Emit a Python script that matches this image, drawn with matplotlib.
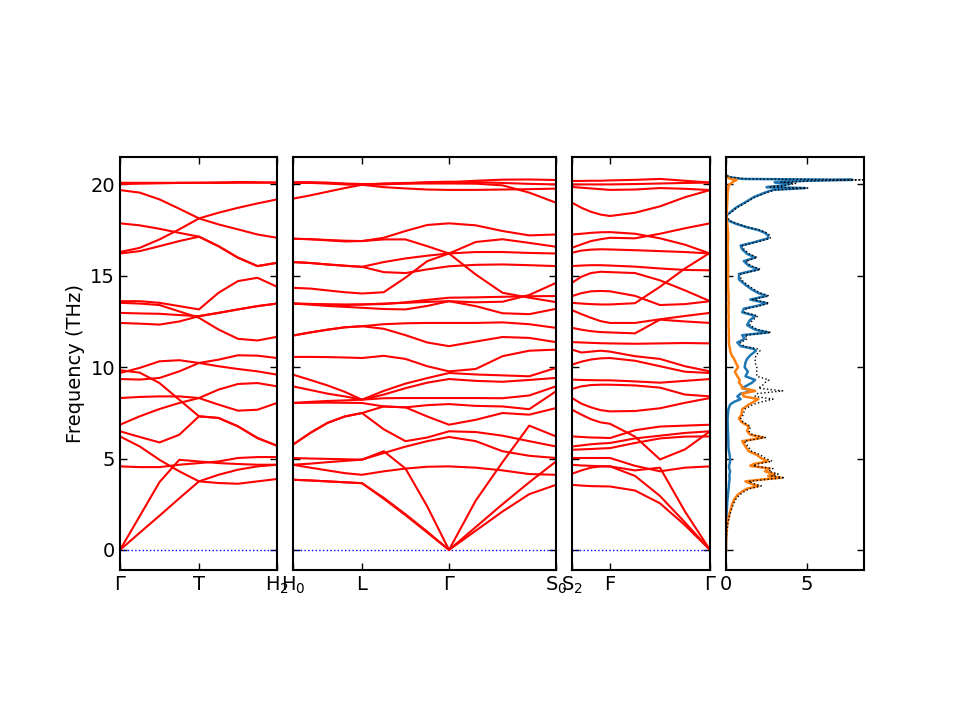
import matplotlib
matplotlib.use("Agg")
import matplotlib.pyplot as plt
import numpy as np

# ---------------- k-path (segment lengths, arbitrary units) ----------------
panel1_segments = [79, 78]          # Γ-T, T-H2
panel2_segments = [69, 87, 107]     # H0-L, L-Γ, Γ-S0
panel3_segments = [38, 100]         # S2-F, F-Γ
panel1_labels = ["Γ", "T", "H$_2$"]
panel2_labels = ["H$_0$", "L", "Γ", "S$_0$"]
panel3_labels = ["S$_2$", "F", "Γ"]
samples_per_segment = 5

# ---------------- band frequencies (THz) ----------------
# panel 1 : Γ -> T -> H2  (9 samples)
bands_panel1 = [
    [20.09, 20.09, 20.09, 20.09, 20.09, 20.11, 20.13, 20.12, 20.10],
    [20.02, 20.04, 20.06, 20.08, 20.09, 20.08, 20.09, 20.09, 20.10],
    [19.69, 19.55, 19.18, 18.67, 18.14, 17.81, 17.54, 17.26, 17.08],
    [16.30, 16.53, 16.99, 17.54, 18.14, 18.45, 18.72, 18.96, 19.18],
    [17.87, 17.76, 17.57, 17.35, 17.14, 16.62, 15.99, 15.53, 15.71],
    [16.22, 16.35, 16.62, 16.90, 17.14, 16.62, 15.99, 15.53, 15.71],
    [13.61, 13.61, 13.52, 13.34, 13.16, 14.07, 14.71, 14.89, 14.40],
    [13.52, 13.48, 13.40, 13.05, 12.70, 12.06, 11.55, 11.46, 11.66],
    [12.97, 12.94, 12.92, 12.85, 12.79, 12.97, 13.16, 13.34, 13.48],
    [12.42, 12.38, 12.33, 12.50, 12.79, 12.97, 13.16, 13.34, 13.48],
    [9.68, 9.96, 10.32, 10.38, 10.23, 10.05, 9.90, 9.77, 9.59],
    [9.83, 9.70, 9.13, 8.22, 7.31, 7.22, 6.76, 6.12, 5.70],
    [9.35, 9.32, 9.41, 9.77, 10.23, 10.41, 10.65, 10.63, 10.50],
    [8.31, 8.37, 8.40, 8.40, 8.31, 7.95, 7.62, 7.67, 8.04],
    [6.85, 7.31, 7.71, 8.04, 8.31, 8.77, 9.08, 9.13, 8.95],
    [6.49, 6.18, 5.88, 6.30, 7.31, 7.22, 6.76, 6.12, 5.70],
    [6.21, 5.66, 4.93, 4.30, 3.75, 3.66, 3.62, 3.75, 3.88],
    [4.57, 4.53, 4.53, 4.66, 4.75, 4.84, 5.03, 5.08, 5.08],
    [0.00, 1.85, 3.71, 4.93, 4.84, 4.75, 4.70, 4.66, 4.66],
    [0.00, 0.94, 1.87, 2.82, 3.75, 4.11, 4.39, 4.57, 4.66],
]

# panel 2 : H0 -> L -> Γ -> S0  (13 samples)
bands_panel2 = [
    [20.09, 20.09, 20.07, 20.02, 19.98, 19.85, 19.78, 19.72, 19.70, 19.70, 19.72, 19.74, 19.77],
    [19.22, 19.40, 19.60, 19.80, 19.98, 20.05, 20.08, 20.10, 20.12, 20.20, 20.26, 20.27, 20.24],
    [20.12, 20.12, 20.10, 20.05, 20.02, 20.03, 20.04, 20.05, 20.05, 20.04, 19.95, 19.55, 19.00],
    [20.09, 20.08, 20.05, 20.00, 19.98, 20.00, 20.06, 20.12, 20.15, 20.12, 20.08, 20.03, 20.00],
    [17.03, 17.00, 16.96, 16.92, 16.90, 17.08, 17.45, 17.78, 17.87, 17.76, 17.45, 17.21, 17.26],
    [17.03, 17.00, 16.94, 16.88, 16.90, 16.99, 16.99, 16.62, 16.22, 15.07, 14.07, 13.80, 13.56],
    [15.75, 15.70, 15.62, 15.55, 15.49, 15.75, 15.95, 16.10, 16.22, 16.30, 16.30, 16.25, 16.22],
    [15.75, 15.70, 15.62, 15.55, 15.49, 15.20, 15.15, 15.35, 15.52, 15.60, 15.62, 15.58, 15.53],
    [14.34, 14.30, 14.20, 14.10, 14.03, 14.10, 14.90, 15.80, 16.22, 16.85, 17.00, 16.80, 16.59],
    [13.48, 13.46, 13.44, 13.43, 13.43, 13.48, 13.52, 13.57, 13.61, 13.55, 13.58, 13.95, 14.61],
    [13.48, 13.45, 13.42, 13.40, 13.43, 13.45, 13.55, 13.68, 13.80, 13.82, 13.85, 13.88, 13.89],
    [13.48, 13.42, 13.35, 13.30, 13.25, 13.18, 13.16, 13.35, 13.61, 13.34, 12.95, 12.90, 13.19],
    [11.73, 11.90, 12.05, 12.18, 12.24, 12.35, 12.40, 12.42, 12.42, 12.42, 12.45, 12.35, 12.15],
    [11.73, 11.90, 12.05, 12.18, 12.24, 12.10, 11.75, 11.35, 11.15, 11.40, 11.65, 11.60, 11.37],
    [10.56, 10.56, 10.55, 10.53, 10.50, 10.62, 10.45, 10.05, 9.77, 9.90, 10.60, 10.90, 10.96],
    [9.59, 9.30, 9.00, 8.65, 8.22, 8.70, 9.10, 9.40, 9.68, 9.60, 9.55, 9.50, 9.96],
    [8.95, 8.75, 8.55, 8.40, 8.22, 8.50, 8.85, 9.15, 9.35, 9.25, 9.20, 9.30, 9.41],
    [8.04, 8.10, 8.15, 8.18, 8.22, 8.30, 8.31, 8.31, 8.31, 8.31, 8.30, 8.45, 8.95],
    [8.04, 8.05, 8.06, 8.05, 8.04, 7.85, 7.80, 7.92, 7.98, 7.88, 7.85, 7.70, 8.68],
    [5.76, 6.40, 6.95, 7.30, 7.49, 7.85, 7.80, 7.30, 6.85, 7.12, 7.49, 7.40, 7.76],
    [5.76, 6.40, 6.95, 7.30, 7.49, 6.60, 5.95, 6.15, 6.49, 6.45, 6.25, 5.95, 5.66],
    [5.03, 5.00, 4.98, 4.96, 4.94, 5.30, 5.65, 5.95, 6.18, 5.95, 5.40, 5.15, 5.03],
    [4.66, 4.50, 4.35, 4.20, 4.11, 4.30, 4.45, 4.55, 4.57, 4.50, 4.35, 4.15, 4.11],
    [4.66, 4.72, 4.80, 4.87, 4.94, 5.40, 4.45, 2.38, 0.00, 2.70, 4.80, 6.80, 6.21],
    [3.84, 3.80, 3.75, 3.70, 3.65, 2.85, 1.95, 1.00, 0.00, 1.05, 2.10, 3.05, 3.56],
    [3.84, 3.80, 3.75, 3.70, 3.65, 2.80, 1.90, 0.95, 0.00, 1.25, 2.50, 3.70, 4.84],
]

# panel 3 : S2 -> F -> Γ  (9 samples)
bands_panel3 = [
    [20.19, 20.19, 20.20, 20.20, 20.22, 20.25, 20.30, 20.20, 20.10],
    [20.00, 20.00, 20.00, 20.00, 20.00, 20.02, 20.05, 20.08, 20.10],
    [19.86, 19.82, 19.78, 19.74, 19.70, 19.72, 19.80, 19.76, 19.69],
    [19.00, 18.72, 18.50, 18.35, 18.27, 18.45, 18.80, 19.30, 19.69],
    [17.26, 17.30, 17.35, 17.38, 17.39, 17.30, 17.05, 16.70, 16.22],
    [16.53, 16.72, 16.90, 17.00, 17.08, 17.05, 17.30, 17.60, 17.87],
    [16.26, 16.38, 16.43, 16.45, 16.44, 16.40, 16.35, 16.30, 16.22],
    [15.53, 15.56, 15.58, 15.58, 15.56, 15.50, 15.40, 15.32, 15.30],
    [14.62, 14.95, 15.15, 15.22, 15.20, 15.15, 14.75, 14.20, 13.61],
    [13.89, 14.05, 14.15, 14.17, 14.15, 13.90, 13.40, 13.45, 13.61],
    [13.52, 13.48, 13.45, 13.43, 13.43, 13.50, 14.40, 15.40, 16.26],
    [13.12, 12.90, 12.70, 12.52, 12.42, 12.42, 12.62, 12.80, 12.97],
    [12.15, 12.05, 11.97, 11.92, 11.90, 11.85, 12.60, 12.50, 12.42],
    [11.37, 11.35, 11.33, 11.31, 11.30, 11.28, 11.30, 11.32, 11.30],
    [10.96, 10.80, 10.85, 10.90, 10.85, 10.60, 10.45, 10.05, 9.77],
    [10.14, 10.30, 10.42, 10.48, 10.50, 10.35, 10.05, 9.75, 9.68],
    [9.32, 9.30, 9.29, 9.28, 9.28, 9.22, 9.15, 9.25, 9.35],
    [8.81, 8.95, 9.02, 9.04, 9.04, 9.00, 8.88, 8.50, 8.40],
    [8.31, 8.00, 7.80, 7.65, 7.58, 7.60, 7.75, 8.05, 8.31],
    [7.67, 7.40, 7.15, 6.98, 6.90, 6.20, 4.95, 5.50, 6.49],
    [6.21, 6.18, 6.15, 6.14, 6.12, 6.55, 6.75, 6.80, 6.85],
    [5.66, 5.72, 5.78, 5.82, 5.85, 6.10, 6.25, 6.40, 6.49],
    [5.48, 5.50, 5.52, 5.55, 5.57, 5.85, 6.10, 6.20, 6.21],
    [5.03, 5.03, 5.03, 5.03, 5.03, 4.60, 4.30, 4.50, 4.57],
    [4.66, 4.62, 4.60, 4.58, 4.57, 4.35, 4.50, 2.10, 0.00],
    [4.17, 4.35, 4.50, 4.57, 4.57, 4.05, 2.95, 1.50, 0.00],
    [3.56, 3.52, 3.49, 3.48, 3.47, 3.25, 2.55, 1.35, 0.00],
]

# ---------------- DOS ----------------
dos_freq = [0.0, 0.5, 1.0, 1.5, 2.0, 2.5, 2.75, 3.0, 3.2, 3.35, 3.5, 3.6, 3.75, 3.85, 3.95,
            4.05, 4.15, 4.3, 4.45, 4.6, 4.7, 4.85, 5.0, 5.2, 5.4, 5.6, 5.8, 5.95, 6.15, 6.3,
            6.5, 6.75, 7.0, 7.2, 7.4, 7.7, 7.95, 8.1, 8.25, 8.4, 8.55, 8.7, 8.85, 9.0, 9.15,
            9.3, 9.5, 9.75, 10.0, 10.25, 10.45, 10.65, 10.9, 11.0, 11.15, 11.35, 11.55, 11.75,
            11.9, 12.05, 12.3, 12.55, 12.8, 13.0, 13.2, 13.35, 13.5, 13.7, 13.9, 14.05, 14.25,
            14.5, 14.8, 15.1, 15.35, 15.55, 15.8, 16.0, 16.2, 16.45, 16.65, 16.85, 17.05, 17.2,
            17.35, 17.5, 17.65, 17.85, 18.0, 18.15, 18.3, 18.5, 18.75, 19.0, 19.3, 19.55, 19.7,
            19.8, 19.85, 19.95, 20.05, 20.12, 20.2, 20.25, 20.3, 20.4, 20.5]
dos_blue = [0.00, 0.00, 0.01, 0.02, 0.04, 0.07, 0.09, 0.12, 0.14, 0.16, 0.18, 0.18, 0.20, 0.22, 0.22,
            0.20, 0.22, 0.25, 0.20, 0.18, 0.22, 0.25, 0.25, 0.22, 0.18, 0.15, 0.15, 0.14, 0.14, 0.13,
            0.12, 0.11, 0.10, 0.10, 0.12, 0.15, 0.25, 0.50, 0.90, 0.70, 0.90, 1.70, 1.00, 1.30, 1.60,
            1.80, 1.20, 1.35, 1.15, 1.20, 1.30, 1.50, 1.85, 1.70, 0.90, 0.70, 1.15, 1.00,
            2.60, 1.80, 1.30, 1.45, 1.80, 1.00, 1.10, 1.90, 2.50, 1.50, 2.50, 2.00, 1.60,
            1.20, 0.80, 0.80, 2.00, 1.40, 1.10, 1.80, 1.30, 1.00, 0.90, 1.80, 2.60, 2.60,
            2.40, 2.00, 1.30, 0.60, 0.20, 0.05, 0.02, 0.30, 0.65, 1.15, 1.70, 2.40, 2.90,
            4.90, 2.50, 3.50, 4.00, 3.00, 5.00, 7.80, 1.00, 0.20, 0.00]
dos_orange = [0.00, 0.01, 0.04, 0.10, 0.22, 0.38, 0.50, 0.70, 1.00, 1.30, 2.00, 1.60, 1.20, 2.20, 3.40,
              2.60, 3.00, 2.40, 2.70, 1.50, 1.70, 2.60, 2.20, 1.90, 1.40, 1.25, 1.10, 1.00, 2.30, 1.50,
              1.30, 1.40, 0.95, 0.80, 0.95, 1.00, 1.40, 1.70, 2.00, 1.10, 1.00, 1.80, 1.00, 0.95, 0.80,
              0.85, 0.70, 0.55, 0.75, 0.60, 0.50, 0.35, 0.25, 0.25, 0.20, 0.18, 0.18, 0.17,
              0.18, 0.17, 0.16, 0.16, 0.17, 0.15, 0.15, 0.16, 0.17, 0.15, 0.16, 0.15, 0.14,
              0.13, 0.12, 0.12, 0.14, 0.13, 0.12, 0.13, 0.12, 0.11, 0.11, 0.12, 0.13, 0.13,
              0.12, 0.11, 0.10, 0.08, 0.06, 0.04, 0.04, 0.05, 0.06, 0.08, 0.09, 0.10, 0.12,
              0.15, 0.14, 0.16, 0.30, 0.40, 0.55, 0.66, 0.30, 0.05, 0.00]
dos_total = [0.00, 0.01, 0.05, 0.12, 0.26, 0.45, 0.59, 0.82, 1.14, 1.46, 2.18, 1.78, 1.40, 2.42, 3.62,
             2.80, 3.22, 2.65, 2.90, 1.68, 1.92, 2.85, 2.45, 2.12, 1.58, 1.40, 1.25, 1.14, 2.44, 1.63,
             1.42, 1.51, 1.05, 0.90, 1.07, 1.15, 1.65, 2.20, 2.90, 1.80, 1.90, 3.50, 2.00, 2.25, 2.40,
             2.65, 1.90, 1.90, 1.90, 1.80, 1.80, 1.85, 2.10, 1.95, 1.10, 0.88, 1.33, 1.17,
             2.78, 1.97, 1.46, 1.61, 1.97, 1.15, 1.25, 2.06, 2.67, 1.65, 2.66, 2.15, 1.74,
             1.33, 0.92, 0.92, 2.14, 1.53, 1.22, 1.93, 1.42, 1.11, 1.01, 1.92, 2.73, 2.73,
             2.52, 2.11, 1.40, 0.68, 0.26, 0.09, 0.06, 0.35, 0.71, 1.23, 1.79, 2.50, 3.02,
             5.05, 2.64, 3.66, 4.30, 3.40, 5.55, 8.46, 1.30, 0.25, 0.00]
dos_xticks = [0, 5]
freq_ticks = [0, 5, 10, 15, 20]

# ---------------- figure ----------------
W, H = 960, 720
fig = plt.figure(figsize=(9.6, 7.2), dpi=100)

def frac(x0, x1, ytop=157, ybot=570):
    return [x0 / W, (H - ybot) / H, (x1 - x0) / W, (ybot - ytop) / H]

ax1 = fig.add_axes(frac(120, 277))
ax2 = fig.add_axes(frac(293, 556))
ax3 = fig.add_axes(frac(572, 710))
ax4 = fig.add_axes(frac(726, 864))

ylim = (-1.1, 21.5)

def kpath(segments):
    ks, ticks = [], [0.0]
    start = 0.0
    for i, L in enumerate(segments):
        pts = np.linspace(start, start + L, samples_per_segment)
        ks.extend(pts if i == 0 else pts[1:])
        start += L
        ticks.append(start)
    return np.array(ks), ticks

def style(ax):
    for s in ax.spines.values():
        s.set_linewidth(1.5)
    ax.tick_params(direction="in", top=True, right=True, length=5, width=1,
                   labelsize=14)
    ax.set_ylim(*ylim)
    ax.set_yticks(freq_ticks)

for ax, segs, bands, labels in [(ax1, panel1_segments, bands_panel1, panel1_labels),
                                (ax2, panel2_segments, bands_panel2, panel2_labels),
                                (ax3, panel3_segments, bands_panel3, panel3_labels)]:
    k, ticks = kpath(segs)
    ax.axhline(0, color="blue", ls=":", lw=1)
    for b in bands:
        ax.plot(k, b, color="red", lw=1.5)
    ax.set_xlim(ticks[0], ticks[-1])
    ax.set_xticks(ticks)
    ax.set_xticklabels(labels)
    style(ax)
    if ax is not ax1:
        ax.set_yticklabels([])

ax1.set_ylabel("Frequency (THz)", fontsize=14)

ax4.plot(dos_blue, dos_freq, color="#1f77b4", lw=1.8)
ax4.plot(dos_orange, dos_freq, color="#ff7f0e", lw=1.8)
ax4.plot(dos_total, dos_freq, color="black", ls=":", lw=1)
ax4.set_xlim(0, 8.52)
ax4.set_xticks(dos_xticks)
style(ax4)
ax4.set_yticklabels([])

fig.savefig("out.png", dpi=100)
